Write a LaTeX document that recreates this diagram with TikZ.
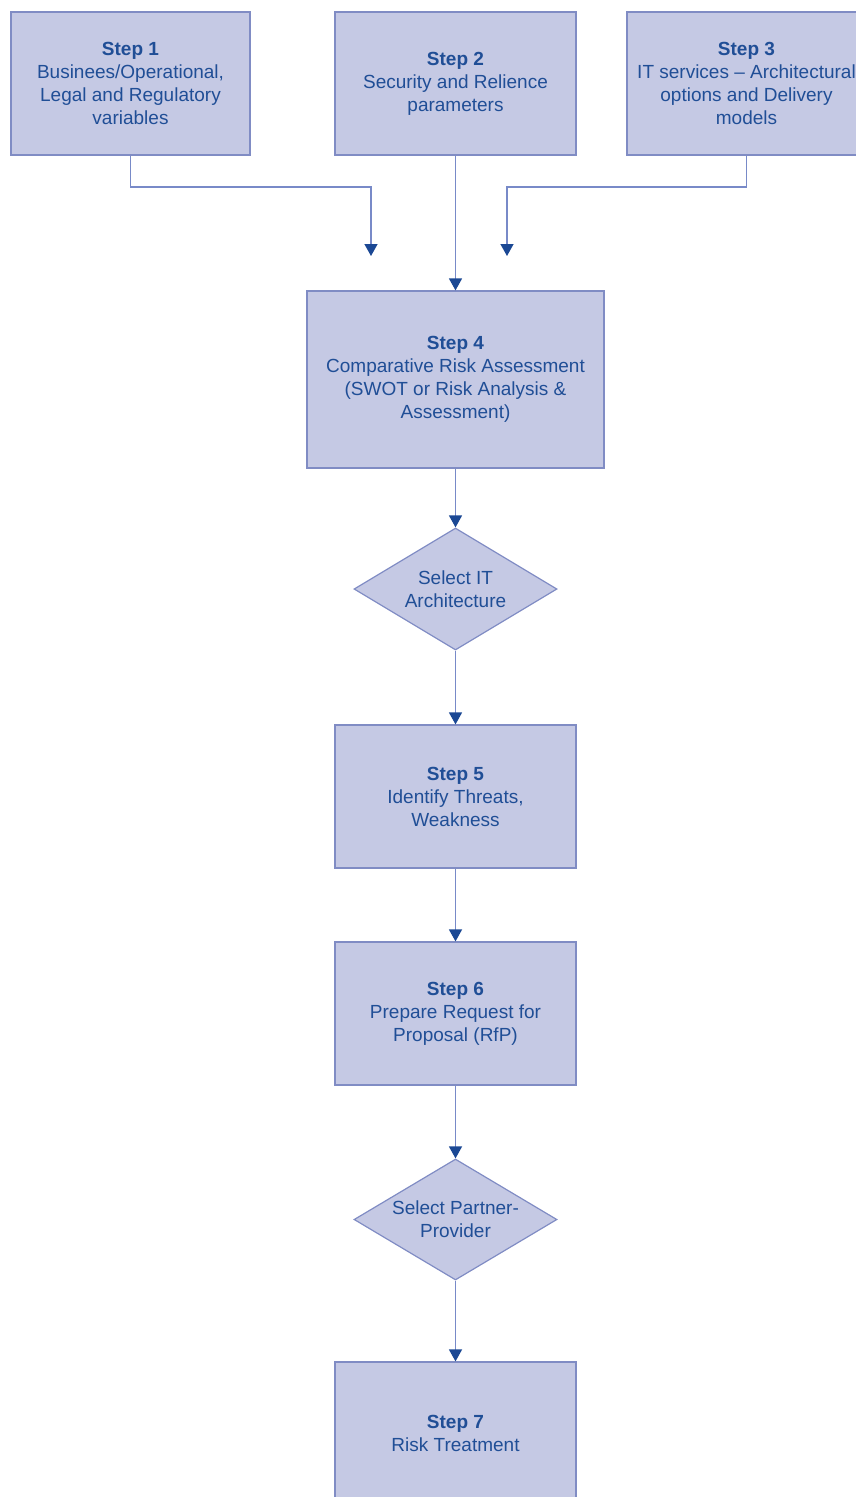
\documentclass[tikz,border=0pt]{standalone}
\usepackage{fontspec}
\setmainfont{Liberation Sans}
\usetikzlibrary{arrows.meta,shapes.geometric}
\definecolor{boxfill}{RGB}{197,201,228}
\definecolor{boxline}{RGB}{128,140,196}
\definecolor{txtc}{RGB}{32,78,150}
\definecolor{connc}{RGB}{120,138,200}
\definecolor{arrc}{RGB}{27,72,148}
\tikzset{
  stepbox/.style={draw=boxline, fill=boxfill, line width=1.2pt, inner sep=0pt,
    align=center, text=txtc, font=\fontsize{19}{23}\selectfont},
  decbox/.style={shape=diamond, draw=boxline, fill=boxfill, line width=1.2pt, inner sep=0pt},
  dectext/.style={align=center, text=txtc, font=\fontsize{19}{23}\selectfont, inner sep=0pt},
  conn/.style={draw=connc, line width=1.4pt},
  arr/.style={conn, -{Triangle[width=13pt,length=12pt,color=arrc]}}
}
\begin{document}
\begin{tikzpicture}[x=1pt,y=-1pt]
\useasboundingbox (0,0) rectangle (856,1497);
\node[stepbox, minimum width=239pt, minimum height=143pt] (s1) at (130.5,83.5)
  {\textbf{Step 1}\\Businees/Operational,\\Legal and Regulatory\\variables};
\node[stepbox, minimum width=241pt, minimum height=143pt] (s2) at (455.5,83.5)
  {\textbf{Step 2}\\Security and Relience\\parameters};
\node[stepbox, minimum width=239pt, minimum height=143pt] (s3) at (746.5,83.5)
  {\textbf{Step 3}\\IT services -- Architectural\\options and Delivery\\models};
\node[stepbox, minimum width=297pt, minimum height=177pt] (s4) at (455.5,379.5)
  {\textbf{Step 4}\\Comparative Risk Assessment\\(SWOT or Risk Analysis \&\\Assessment)};
\node[decbox, minimum width=203pt, minimum height=122pt] (d1) at (455.5,589) {};
\node[dectext] (d1t) at (d1.center) {Select IT\\Architecture};
\node[stepbox, minimum width=241pt, minimum height=143pt] (s5) at (455.5,796.5)
  {\textbf{Step 5}\\Identify Threats,\\Weakness};
\node[stepbox, minimum width=241pt, minimum height=143pt] (s6) at (455.5,1013.5)
  {\textbf{Step 6}\\Prepare Request for\\Proposal (RfP)};
\node[decbox, minimum width=203pt, minimum height=121pt] (d2) at (455.5,1219.5) {};
\node[dectext] (d2t) at (d2.center) {Select Partner-\\Provider};
\node[stepbox, minimum width=241pt, minimum height=143pt] (s7) at (455.5,1433.5)
  {\textbf{Step 7}\\Risk Treatment};
\coordinate (j1) at (371,187);
\coordinate (e1) at (371,256);
\coordinate (j3) at (507,187);
\coordinate (e3) at (507,256);
\draw[arr] (s1.south) |- (j1) -- (e1);
\draw[arr] (s3.south) |- (j3) -- (e3);
\draw[arr] (s2.south) -- (s4.north);
\draw[arr] (s4.south) -- (d1.north);
\draw[arr] (d1.south) -- (s5.north);
\draw[arr] (s5.south) -- (s6.north);
\draw[arr] (s6.south) -- (d2.north);
\draw[arr] (d2.south) -- (s7.north);
\end{tikzpicture}
\end{document}
